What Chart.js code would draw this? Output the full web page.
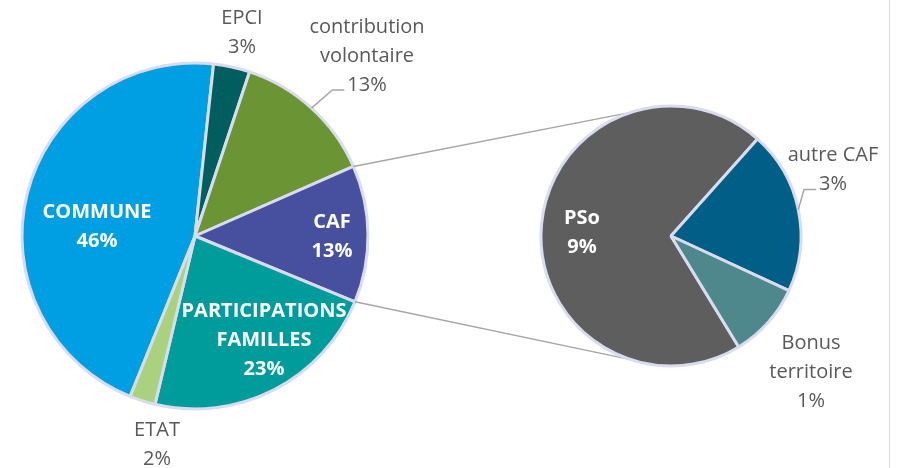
<!DOCTYPE html>
<html>
<head>
<meta charset="utf-8">
<script src="https://cdn.jsdelivr.net/npm/chart.js"></script>
<style>
  html, body { margin: 0; padding: 0; background: #fff; }
  #wrap { position: relative; width: 897px; height: 468px; overflow: hidden; }
  #wrap canvas { position: absolute; left: 0; top: 0; }
  #frame { position: absolute; left: 889px; top: 0; width: 1px; height: 468px; background: #d9d9d9; }
</style>
</head>
<body>
<div id="wrap">
  <canvas id="leftPie" width="897" height="468"></canvas>
  <canvas id="rightPie" width="897" height="468"></canvas>
  <div id="frame"></div>
</div>
<script>
// données du camembert principal
const mainLabels = ['COMMUNE', 'EPCI', 'contribution\nvolontaire', 'CAF', 'PARTICIPATIONS\nFAMILLES', 'ETAT'];
const mainValues = [45.6, 3.4, 13.3, 12.8, 22.5, 2.4];
const mainColors = ['#009fe3', '#005f5e', '#6b9434', '#46509f', '#009b9b', '#a9d17e'];

// détail de la part CAF
const cafLabels = ['PSo', 'autre CAF', 'Bonus\nterritoire'];
const cafValues = [9.0, 2.6, 1.2];
const cafColors = ['#5e5e5e', '#005e87', '#4e878c'];

const TOTAL = mainValues.reduce((a, b) => a + b, 0);
const BORDER = '#d9dcef';
const GREY_TXT = '#595959';
const FONT = '"Open Sans", "DejaVu Sans", sans-serif';

// position du texte par rapport au centre du camembert (px)
const mainLabelPos = [
    { dx: -98, dy: -9, inside: true },
    { dx: 47, dy: -203 },
    { dx: 172, dy: -180, leader: true },
    { dx: 137, dy: 1, inside: true },
    { dx: 69, dy: 104, inside: true },
    { dx: -38, dy: 209 }
];
const cafLabelPos = [
    { dx: -89, dy: -3, inside: true },
    { dx: 162, dy: -66, leader: true },
    { dx: 140, dy: 136 }
];

function labelPlugin(id, labels, values, pos) {
    return {
        id: id,
        afterDatasetsDraw(chart) {
            const ctx = chart.ctx;
            const arcs = chart.getDatasetMeta(0).data;
            ctx.save();
            ctx.textAlign = 'center';
            ctx.textBaseline = 'middle';
            arcs.forEach((arc, i) => {
                const p = pos[i];
                const lines = labels[i].split('\n');
                lines.push(Math.round(values[i] / TOTAL * 100) + '%');
                const lh = 29;
                const cx = arc.x + p.dx;
                const cy = arc.y + p.dy;
                const top = cy - (lines.length - 1) * lh / 2;
                ctx.font = (p.inside ? 'bold ' : '') + '20px ' + FONT;
                ctx.fillStyle = p.inside ? '#ffffff' : GREY_TXT;
                lines.forEach((t, k) => ctx.fillText(t, cx, top + k * lh));

                if (p.leader) {
                    const pct = lines[lines.length - 1];
                    const w = ctx.measureText(pct).width;
                    const ly = top + (lines.length - 1) * lh + 5;
                    const lx = cx - w / 2 - 3;
                    const mid = (arc.startAngle + arc.endAngle) / 2;
                    const sx = arc.x + Math.cos(mid) * arc.outerRadius;
                    const sy = arc.y + Math.sin(mid) * arc.outerRadius;
                    ctx.strokeStyle = '#a6a6a6';
                    ctx.lineWidth = 1.5;
                    ctx.beginPath();
                    ctx.moveTo(sx, sy);
                    ctx.lineTo(lx - 12, ly);
                    ctx.lineTo(lx, ly);
                    ctx.stroke();
                }
            });
            ctx.restore();
        }
    };
}

const mainChart = new Chart(document.getElementById('leftPie'), {
    type: 'pie',
    data: {
        labels: mainLabels,
        datasets: [{
            data: mainValues,
            backgroundColor: mainColors,
            borderColor: BORDER,
            borderWidth: 3
        }]
    },
    options: {
        responsive: false,
        animation: false,
        rotation: 202,
        radius: 173,
        layout: { padding: { left: 0, right: 507, top: 4, bottom: 0 } },
        plugins: { legend: { display: false }, tooltip: { enabled: false } },
        events: []
    },
    plugins: [labelPlugin('mainLabels', mainLabels, mainValues, mainLabelPos)]
});

// lignes de liaison entre la part CAF et le second camembert
const connectorPlugin = {
    id: 'connector',
    beforeDatasetsDraw(chart) {
        const caf = mainChart.getDatasetMeta(0).data[3];
        const right = chart.getDatasetMeta(0).data[0];
        if (!caf || !right) return;
        const r1 = caf.outerRadius;
        const r2 = right.outerRadius;
        const a1 = -108 * Math.PI / 180;
        const a2 = 108 * Math.PI / 180;
        const ctx = chart.ctx;
        ctx.save();
        ctx.strokeStyle = '#a6a6a6';
        ctx.lineWidth = 1.5;
        ctx.beginPath();
        ctx.moveTo(caf.x + Math.cos(caf.startAngle) * r1, caf.y + Math.sin(caf.startAngle) * r1);
        ctx.lineTo(right.x + Math.cos(a1) * r2, right.y + Math.sin(a1) * r2);
        ctx.moveTo(caf.x + Math.cos(caf.endAngle) * r1, caf.y + Math.sin(caf.endAngle) * r1);
        ctx.lineTo(right.x + Math.cos(a2) * r2, right.y + Math.sin(a2) * r2);
        ctx.stroke();
        ctx.restore();
    }
};

const cafChart = new Chart(document.getElementById('rightPie'), {
    type: 'pie',
    data: {
        labels: cafLabels,
        datasets: [{
            data: cafValues,
            backgroundColor: cafColors,
            borderColor: BORDER,
            borderWidth: 3
        }]
    },
    options: {
        responsive: false,
        animation: false,
        rotation: 148.6,
        radius: 130,
        layout: { padding: { left: 445, right: 0, top: 4, bottom: 0 } },
        plugins: { legend: { display: false }, tooltip: { enabled: false } },
        events: []
    },
    plugins: [connectorPlugin, labelPlugin('cafLabels', cafLabels, cafValues, cafLabelPos)]
});
</script>
</body>
</html>
